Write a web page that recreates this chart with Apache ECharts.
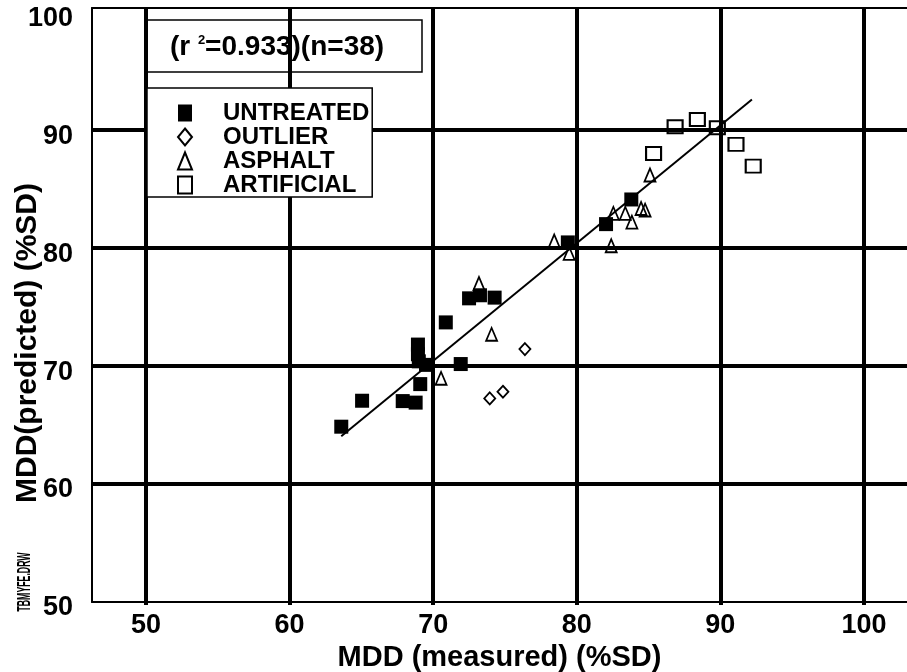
<!DOCTYPE html>
<html>
<head>
<meta charset="utf-8">
<script src="https://cdn.jsdelivr.net/npm/echarts@6/dist/echarts.min.js"></script>
<style>
  html, body { margin: 0; padding: 0; background: #fff; }
  #chart { width: 907px; height: 672px; }
</style>
</head>
<body>
<div id="chart"></div>
<script>
// Measured vs. predicted MDD (%SD), grouped by surface type
const untreatedX = [63.6, 65.05, 67.88, 68.78, 69.1, 68.94, 68.94, 69.0, 69.5, 71.92, 70.88, 72.5, 73.26, 74.28, 79.38, 82.04, 83.8];
const untreatedY = [64.86, 67.06, 67.03, 66.9, 68.47, 71.82, 71.0, 70.4, 70.1, 70.17, 73.7, 75.74, 76.0, 75.8, 80.48, 82.03, 84.12];
const outlierX = [76.39, 73.94, 74.86];
const outlierY = [71.44, 67.26, 67.82];
const asphaltX = [70.55, 74.07, 73.19, 78.43, 79.47, 82.4, 82.55, 83.38, 83.84, 84.48, 84.76, 85.1];
const asphaltY = [68.96, 72.69, 77.0, 80.6, 79.55, 80.2, 82.94, 82.94, 82.2, 83.36, 83.22, 86.19];
const artificialX = [85.35, 86.85, 88.4, 89.79, 91.09, 92.29];
const artificialY = [88.02, 90.28, 90.9, 90.2, 88.79, 86.95];

// Regression line end points
const fitX = [63.6, 92.2];
const fitY = [64.05, 92.6];

// Tick labels and grid lines
const xTicks = [50, 60, 70, 80, 90, 100];
const yTicks = [50, 60, 70, 80, 90, 100];
const xGrid = [50, 60, 70, 80, 90, 100];
const yGrid = [60, 70, 80, 90];

const groupNames = ['UNTREATED', 'OUTLIER', 'ASPHALT', 'ARTIFICIAL'];
const rSquared = '0.933';
const nCount = 38;

const FONT = '"Liberation Sans", Arial, sans-serif';
const pairs = (xs, ys) => xs.map((x, i) => [x, ys[i]]);
const hollow = 'rgba(0,0,0,0)';

const chart = echarts.init(document.getElementById('chart'), null, { renderer: 'canvas' });

const gridLines = [
  ...xGrid.map(v => ({ xAxis: v })),
  ...yGrid.map(v => ({ yAxis: v }))
];

const option = {
  animation: false,
  backgroundColor: '#fff',
  textStyle: { fontFamily: FONT },
  grid: { left: 92, top: 8, right: 0, bottom: 70, containLabel: false, outerBoundsMode: 'none' },
  xAxis: [{
    type: 'value',
    min: 46.24,
    max: 103.0,
    position: 'bottom',
    axisLine: { show: true, onZero: false, lineStyle: { color: '#000', width: 2 } },
    axisTick: { show: true, customValues: xTicks, length: 3, lineStyle: { color: '#000', width: 4 } },
    splitLine: { show: false },
    axisLabel: {
      margin: 10,
      color: '#000',
      fontSize: 27,
      fontWeight: 'bold',
      fontFamily: FONT,
      formatter: v => (xTicks.includes(v) ? String(v) : '')
    },
    name: 'MDD (measured) (%SD)',
    nameLocation: 'middle',
    nameGap: 36,
    nameTextStyle: { color: '#000', fontSize: 29, fontWeight: 'bold', fontFamily: FONT }
  }, {
    type: 'value',
    min: 46.24,
    max: 103.0,
    position: 'top',
    axisLine: { show: true, onZero: false, lineStyle: { color: '#000', width: 2 } },
    axisTick: { show: false },
    splitLine: { show: false },
    axisLabel: { show: false }
  }],
  yAxis: {
    type: 'value',
    min: 50,
    max: 100.35,
    axisLine: { show: true, onZero: false, lineStyle: { color: '#000', width: 2 } },
    axisTick: { show: false },
    splitLine: { show: false },
    axisLabel: {
      margin: 19,
      color: '#000',
      fontSize: 27,
      fontWeight: 'bold',
      fontFamily: FONT,
      verticalAlign: 'top',
      lineHeight: 12,
      formatter: v => (yTicks.includes(v) ? String(v) : '')
    }
  },
  legend: {
    data: groupNames,
    orient: 'vertical',
    left: 147,
    top: 88,
    padding: [13, 3, 0, 30],
    itemGap: 0,
    itemWidth: 14,
    itemHeight: 17,
    backgroundColor: '#fff',
    borderColor: '#000',
    borderWidth: 1.5,
    borderRadius: 0,
    selectedMode: false,
    textStyle: {
      color: '#000',
      fontSize: 24,
      fontWeight: 'bold',
      fontFamily: FONT,
      lineHeight: 24,
      padding: [0, 0, 0, 26]
    }
  },
  series: [
    {
      // grid lines drawn through the axes' own scales
      type: 'line',
      data: [],
      silent: true,
      markLine: {
        z: 1,
        silent: true,
        animation: false,
        symbol: ['none', 'none'],
        label: { show: false },
        lineStyle: { color: '#000', width: 4, type: 'solid', opacity: 1 },
        data: gridLines
      }
    },
    {
      name: 'fit',
      type: 'line',
      data: pairs(fitX, fitY),
      symbol: 'none',
      silent: true,
      z: 3,
      lineStyle: { color: '#000', width: 2 }
    },
    {
      name: 'UNTREATED',
      type: 'scatter',
      data: pairs(untreatedX, untreatedY),
      symbol: 'rect',
      symbolSize: 14,
      z: 4,
      itemStyle: { color: '#000', borderColor: '#000', borderWidth: 0, opacity: 1 }
    },
    {
      name: 'OUTLIER',
      type: 'scatter',
      data: pairs(outlierX, outlierY),
      symbol: 'diamond',
      symbolSize: [11, 12],
      z: 4,
      itemStyle: { color: hollow, borderColor: '#000', borderWidth: 1.8, opacity: 1 }
    },
    {
      name: 'ASPHALT',
      type: 'scatter',
      data: pairs(asphaltX, asphaltY),
      symbol: 'triangle',
      symbolSize: [11, 13],
      z: 4,
      itemStyle: { color: hollow, borderColor: '#000', borderWidth: 1.8, opacity: 1 }
    },
    {
      name: 'ARTIFICIAL',
      type: 'scatter',
      data: pairs(artificialX, artificialY),
      symbol: 'rect',
      symbolSize: [15, 13],
      z: 4,
      itemStyle: { color: hollow, borderColor: '#000', borderWidth: 2, opacity: 1 }
    }
  ],
  graphic: [
    {
      type: 'group',
      z: 100,
      children: [
        {
          type: 'rect',
          shape: { x: 147, y: 20, width: 275, height: 52 },
          style: { fill: '#fff', stroke: '#000', lineWidth: 1.5 }
        },
        {
          type: 'text',
          x: 277,
          y: 47,
          style: {
            text: '(r {sup|2}=' + rSquared + ')(n=' + nCount + ')',
            align: 'center',
            verticalAlign: 'middle',
            fill: '#000',
            font: 'bold 28px ' + FONT,
            rich: {
              sup: {
                fontSize: 13,
                fontWeight: 'bold',
                fontFamily: FONT,
                fill: '#000',
                padding: [0, 0, 13, 0]
              }
            }
          }
        }
      ]
    },
    {
      type: 'text',
      z: 100,
      x: 28,
      y: 343,
      rotation: Math.PI / 2,
      style: {
        text: 'MDD(predicted) (%SD)',
        align: 'center',
        verticalAlign: 'middle',
        fill: '#000',
        font: 'bold 30px ' + FONT
      }
    },
    {
      type: 'text',
      z: 100,
      x: 25,
      y: 582,
      rotation: Math.PI / 2,
      scaleX: 0.46,
      style: {
        text: 'TBMYFE.DRW',
        align: 'center',
        verticalAlign: 'middle',
        fill: '#000',
        font: 'bold 19px ' + FONT
      }
    }
  ]
};

chart.setOption(option);
</script>
</body>
</html>
